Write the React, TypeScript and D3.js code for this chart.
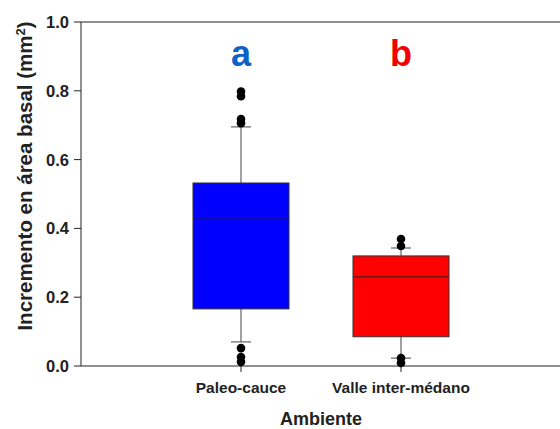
import * as d3 from 'd3';

const categories = ['Paleo-cauce', 'Valle inter-médano'];
const whiskerLow = [0.07, 0.023];
const q1 = [0.166, 0.085];
const median = [0.427, 0.259];
const q3 = [0.532, 0.32];
const whiskerHigh = [0.695, 0.343];
const outliers = [
  [0.798, 0.784, 0.718, 0.706, 0.052, 0.026, 0.012],
  [0.369, 0.349, 0.023, 0.009],
];
const letters = ['a', 'b'];
const letterColors = ['#0d62c6', '#f50000'];
const boxColors = ['#0000ff', '#ff0000'];
const yTicks = [0, 0.2, 0.4, 0.6, 0.8, 1.0];

const W = 560;
const H = 429;
const margin = { top: 22, right: -1, bottom: 63, left: 81 };

export default function App() {
  const x = d3.scaleLinear().domain([0, 3]).range([margin.left, W - margin.right]);
  const y = d3.scaleLinear().domain([0, 1]).range([H - margin.bottom, margin.top]);
  const boxW = 96;
  const capW = 20;
  const font = 'Arial, "Liberation Sans", sans-serif';

  return (
    <svg width={W} height={H} style={{ position: 'absolute', left: 0, top: 0, background: '#fff' }} fontFamily={font}>
      {/* frame lines */}
      <line x1={x(0)} x2={x(3)} y1={y(1)} y2={y(1)} stroke="#222" strokeWidth={1} />
      <line x1={x(0)} x2={x(3)} y1={y(0)} y2={y(0)} stroke="#222" strokeWidth={1} />
      <line x1={x(0)} x2={x(0)} y1={y(0)} y2={y(1)} stroke="#222" strokeWidth={1} />

      {yTicks.map(t => (
        <g key={t}>
          <line x1={x(0) - 7} x2={x(0)} y1={y(t)} y2={y(t)} stroke="#222" />
          <text x={x(0) - 12} y={y(t)} dy="0.36em" textAnchor="end" fontSize={16.5} fontWeight="bold" fill="#222">
            {d3.format('.1f')(t)}
          </text>
        </g>
      ))}

      {categories.map((c, i) => {
        const cx = x(i + 1);
        return (
          <g key={c}>
            <line x1={cx} x2={cx} y1={y(0)} y2={y(0) + 6} stroke="#222" />
            <line x1={cx} x2={cx} y1={y(whiskerHigh[i])} y2={y(q3[i])} stroke="#444" />
            <line x1={cx} x2={cx} y1={y(q1[i])} y2={y(whiskerLow[i])} stroke="#444" />
            <line x1={cx - capW / 2} x2={cx + capW / 2} y1={y(whiskerHigh[i])} y2={y(whiskerHigh[i])} stroke="#444" />
            <line x1={cx - capW / 2} x2={cx + capW / 2} y1={y(whiskerLow[i])} y2={y(whiskerLow[i])} stroke="#444" />
            <rect
              x={cx - boxW / 2}
              y={y(q3[i])}
              width={boxW}
              height={y(q1[i]) - y(q3[i])}
              fill={boxColors[i]}
              stroke="#333"
              strokeWidth={1}
            />
            <line x1={cx - boxW / 2} x2={cx + boxW / 2} y1={y(median[i])} y2={y(median[i])} stroke="#222" />
            {outliers[i].map((o, j) => (
              <circle key={j} cx={cx} cy={y(o)} r={4.3} fill="#000" />
            ))}
            <text x={cx} y={393} textAnchor="middle" fontSize={15.5} fontWeight="bold" fill="#222">
              {c}
            </text>
            <text x={cx} y={66} textAnchor="middle" fontSize={36} fontWeight="bold" fill={letterColors[i]}>
              {letters[i]}
            </text>
          </g>
        );
      })}

      <text x={x(1.5)} y={425} textAnchor="middle" fontSize={18} fontWeight="bold" fill="#222">
        Ambiente
      </text>
      <text
        transform={`translate(32, 176) rotate(-90)`}
        textAnchor="middle"
        fontSize={20.5}
        fontWeight="bold"
        fill="#222"
      >
        Incremento en área basal (mm<tspan baselineShift="super" fontSize={13}>2</tspan>)
      </text>
    </svg>
  );
}
